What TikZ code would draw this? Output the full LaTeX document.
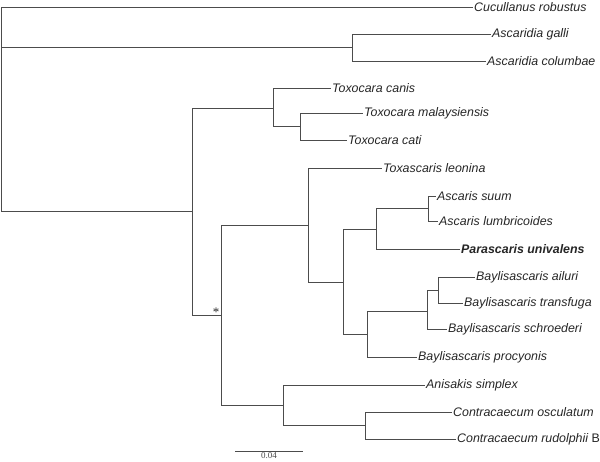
\documentclass[tikz,border=0pt]{standalone}
\usepackage{fontspec}
\setmainfont{Liberation Serif}
\newfontfamily\taxfont{Liberation Sans}
\usetikzlibrary{positioning}

\begin{document}
\begin{tikzpicture}[
        x=1pt, y=-1pt,
        taxon/.style={anchor=west, inner sep=1pt, font=\taxfont\fontsize{12.4}{14}\selectfont\itshape, text=black!85},
        branch/.style={draw=black!70, line width=0.9pt},
        scalelbl/.style={font=\fontsize{9}{10}\selectfont, text=black!70, inner sep=1pt}
    ]
        \useasboundingbox (0,0) rectangle (600,461);

        \coordinate (root) at (1.5,7);
        \coordinate (asc) at (352,47);
        \coordinate (X) at (192,211);
        \coordinate (tox) at (273,108);
        \coordinate (tin) at (300,126.5);
        \coordinate (Y) at (221,315);
        \coordinate (Z) at (308,225);
        \coordinate (W) at (343,282);
        \coordinate (AP) at (376,229);
        \coordinate (asc2) at (428,208.5);
        \coordinate (bay) at (367,334);
        \coordinate (bay1) at (427,311);
        \coordinate (bay2) at (438,290);
        \coordinate (ani) at (283,405);
        \coordinate (con) at (365,425.5);

        \node[taxon] (cro) at (473,7) {Cucullanus robustus};
        \node[taxon] (aga) at (491,34) {Ascaridia galli};
        \node[taxon] (aco) at (486,61) {Ascaridia columbae};
        \node[taxon] (tca) at (331,88) {Toxocara canis};
        \node[taxon] (tma) at (363,113) {Toxocara malaysiensis};
        \node[taxon] (tct) at (347,140) {Toxocara cati};
        \node[taxon] (tle) at (382,168) {Toxascaris leonina};
        \node[taxon] (asu) at (436,196) {Ascaris suum};
        \node[taxon] (alu) at (438,221) {Ascaris lumbricoides};
        \node[taxon, font=\taxfont\fontsize{12.4}{14}\selectfont\bfseries\itshape] (pun) at (460,249) {Parascaris univalens};
        \node[taxon] (bai) at (475,277) {Baylisascaris ailuri};
        \node[taxon] (btr) at (463,303) {Baylisascaris transfuga};
        \node[taxon] (bsc) at (447,329) {Baylisascaris schroederi};
        \node[taxon] (bpr) at (417,357) {Baylisascaris procyonis};
        \node[taxon] (asi) at (425,385) {Anisakis simplex};
        \node[taxon] (cos) at (452,412) {Contracaecum osculatum};
        \node[taxon] (cru) at (456,439) {Contracaecum \textit{rudolphii} \upshape B};

        \path[branch] (root) |- (cro.west)
            (root) |- (asc) (asc) |- (aga.west) (asc) |- (aco.west)
            (root) |- (X)
            (X) |- (tox) (tox) |- (tca.west) (tox) |- (tin)
            (tin) |- (tma.west) (tin) |- (tct.west)
            (X) |- (Y)
            (Y) |- (Z) (Z) |- (tle.west) (Z) |- (W)
            (W) |- (AP) (AP) |- (asc2) (asc2) |- (asu.west) (asc2) |- (alu.west)
            (AP) |- (pun.west)
            (W) |- (bay) (bay) |- (bay1) (bay1) |- (bay2)
            (bay2) |- (bai.west) (bay2) |- (btr.west)
            (bay1) |- (bsc.west) (bay) |- (bpr.west)
            (Y) |- (ani) (ani) |- (asi.west) (ani) |- (con)
            (con) |- (cos.west) (con) |- (cru.west);

        \node[scalelbl, font=\fontsize{13}{14}\selectfont, text=black!85] (star) at (216,312) {*};

        \coordinate (sbl) at (235,451);
        \coordinate (sbr) at (303,451);
        \coordinate (sbm) at (269,451);
        \draw[branch] (sbl) -- (sbr);
        \node[scalelbl, below=0pt of sbm] (sbt) {0.04};
\end{tikzpicture}
\end{document}
